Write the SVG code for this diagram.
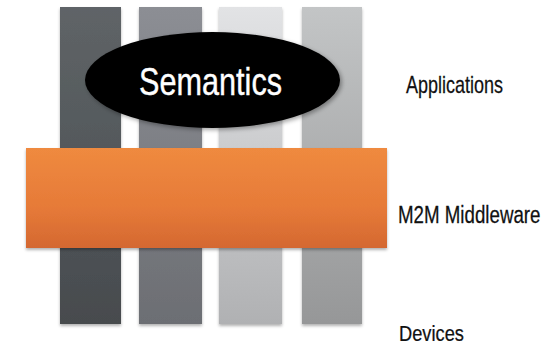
<svg xmlns="http://www.w3.org/2000/svg" width="548" height="346" viewBox="0 0 548 346">
  <style>
    .lbl { font-family: "Liberation Sans", Arial, sans-serif; font-size: 24px; fill: #111; stroke: #111; stroke-width: 0.25px; }
    .sem { font-family: "Liberation Sans", Arial, sans-serif; font-size: 39px; fill: #fff; stroke: #fff; stroke-width: 0.4px; }
  </style>
  <defs>
    <linearGradient id="g1" x1="0" y1="0" x2="0" y2="1"><stop offset="0" stop-color="#5f6467"/><stop offset="1" stop-color="#474b4e"/></linearGradient>
    <linearGradient id="g2" x1="0" y1="0" x2="0" y2="1"><stop offset="0" stop-color="#8c8e94"/><stop offset="1" stop-color="#6c6e73"/></linearGradient>
    <linearGradient id="g3" x1="0" y1="0" x2="0" y2="1"><stop offset="0" stop-color="#e2e3e5"/><stop offset="1" stop-color="#b0b1b3"/></linearGradient>
    <linearGradient id="g4" x1="0" y1="0" x2="0" y2="1"><stop offset="0" stop-color="#c3c5c6"/><stop offset="1" stop-color="#969798"/></linearGradient>
    <linearGradient id="go" x1="0" y1="0" x2="0" y2="1"><stop offset="0" stop-color="#ef8a3f"/><stop offset="0.6" stop-color="#e67a38"/><stop offset="1" stop-color="#d46831"/></linearGradient>
    <filter id="sh" x="-10%" y="-10%" width="120%" height="125%">
      <feDropShadow dx="0" dy="2" stdDeviation="1.5" flood-color="#000" flood-opacity="0.3"/>
    </filter>
    <filter id="esh" x="-10%" y="-15%" width="125%" height="135%">
      <feDropShadow dx="2" dy="2" stdDeviation="2" flood-color="#000" flood-opacity="0.35"/>
    </filter>
  </defs>

  <g id="bars">
    <rect id="bar1" x="60" y="7" width="61" height="317" fill="url(#g1)" filter="url(#sh)"/>
    <rect id="bar2" x="139" y="7" width="63" height="317" fill="url(#g2)" filter="url(#sh)"/>
    <rect id="bar3" x="219" y="7" width="63" height="317" fill="url(#g3)" filter="url(#sh)"/>
    <rect id="bar4" x="302" y="7" width="60" height="317" fill="url(#g4)" filter="url(#sh)"/>
  </g>

  <g id="semantics">
    <ellipse cx="212.5" cy="80" rx="127.5" ry="48" fill="#000" filter="url(#esh)"/>
    <text class="sem" transform="translate(139,95) scale(0.786,1)" x="0" y="0">Semantics</text>
  </g>

  <g id="middleware">
    <rect x="26" y="148" width="361" height="100" fill="url(#go)" filter="url(#sh)"/>
  </g>

  <g id="labels">
    <text class="lbl" transform="translate(406,93) scale(0.75,1)" x="0" y="0">Applications</text>
    <text class="lbl" transform="translate(398,223) scale(0.78,1)" x="0" y="0">M2M Middleware</text>
    <text class="lbl" transform="translate(399,341) scale(0.83,1)" x="0" y="0" style="font-size:22px">Devices</text>
  </g>
  <g id="connectors"/>
</svg>
